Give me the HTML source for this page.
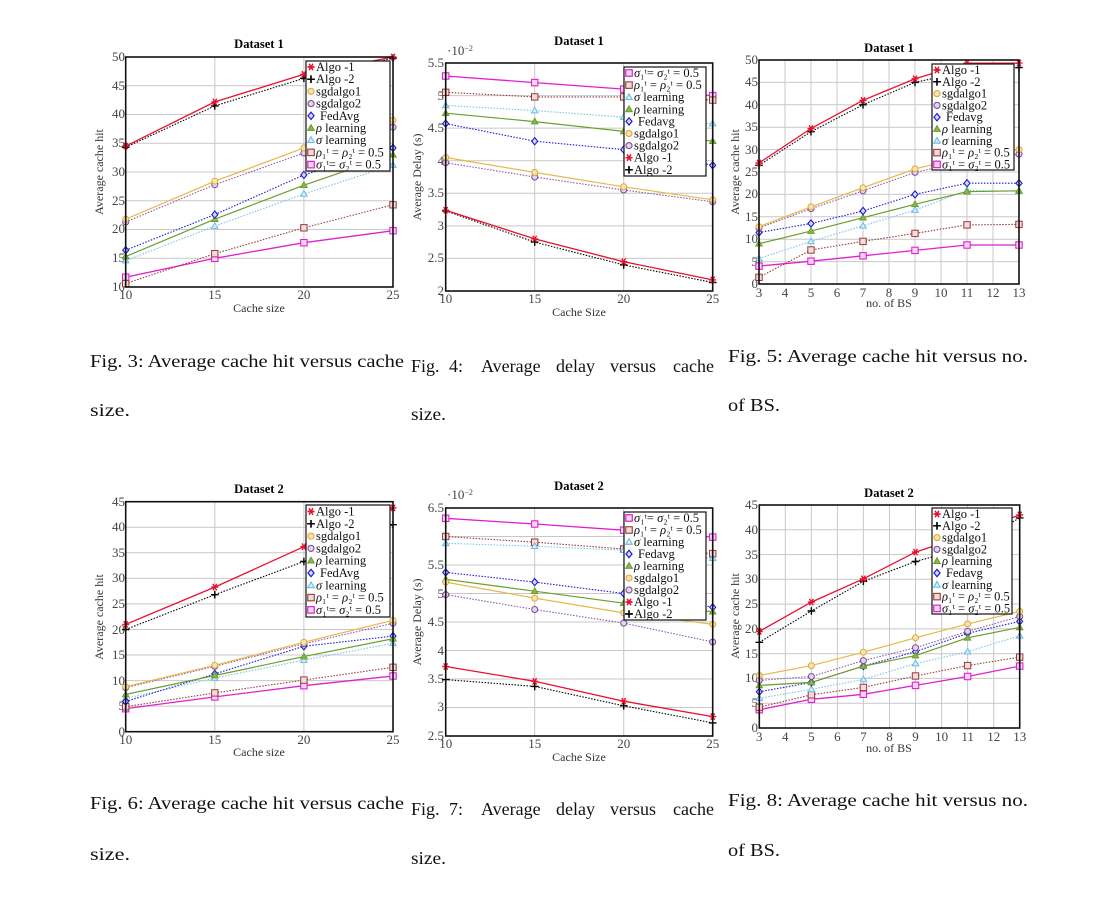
<!DOCTYPE html>
<html><head><meta charset="utf-8"><style>
html,body{margin:0;padding:0;background:#fff}
svg{display:block}
text{font-family:"Liberation Serif",serif}
.tk{font-size:13px;fill:#444}
.ttl{font-family:"Liberation Serif",serif;font-weight:bold;font-size:12.5px;fill:#000}
.al{font-size:12px;fill:#333}
.lgt{font-size:12.5px;fill:#111}
.cap{font-size:18px;fill:#111}
.g{stroke:#c8c8c8;stroke-width:1}
.box{fill:none;stroke:#111;stroke-width:1.6}
.lgb{fill:#fff;stroke:#111;stroke-width:1.2}
polyline{fill:none}
.a{stroke:#e8112d;stroke-width:1.3;marker-start:url(#mA);marker-mid:url(#mA);marker-end:url(#mA)}
.b{stroke:#000;stroke-width:1.1;stroke-dasharray:1.5 1.5;marker-start:url(#mB);marker-mid:url(#mB);marker-end:url(#mB)}
.c{stroke:#e8b84a;stroke-width:1.2;marker-start:url(#mC);marker-mid:url(#mC);marker-end:url(#mC)}
.d{stroke:#8a5aa8;stroke-width:1.1;stroke-dasharray:1.5 1.5;marker-start:url(#mD);marker-mid:url(#mD);marker-end:url(#mD)}
.f{stroke:#1a1ad8;stroke-width:1.1;stroke-dasharray:1.5 1.5;marker-start:url(#mF);marker-mid:url(#mF);marker-end:url(#mF)}
.r{stroke:#6a9e2a;stroke-width:1.2;marker-start:url(#mR);marker-mid:url(#mR);marker-end:url(#mR)}
.s{stroke:#7cc4ea;stroke-width:1.1;stroke-dasharray:1.5 1.5;marker-start:url(#mS);marker-mid:url(#mS);marker-end:url(#mS)}
.p{stroke:#9a3a3a;stroke-width:1.1;stroke-dasharray:1.5 1.5;marker-start:url(#mP);marker-mid:url(#mP);marker-end:url(#mP)}
.q{stroke:#e020d0;stroke-width:1.3;marker-start:url(#mQ);marker-mid:url(#mQ);marker-end:url(#mQ)}
.lg{stroke:none !important}
</style></head><body>
<svg width="1110" height="905" viewBox="0 0 1110 905" xmlns="http://www.w3.org/2000/svg">
<defs>
<marker id="mA" markerUnits="userSpaceOnUse" markerWidth="10" markerHeight="10" refX="0" refY="0" overflow="visible"><path d="M-3.5 0H3.5M-1.9 -3.2L1.9 3.2M1.9 -3.2L-1.9 3.2" stroke="#e8112d" stroke-width="1.4" fill="none"/></marker>
<marker id="mB" markerUnits="userSpaceOnUse" markerWidth="10" markerHeight="10" refX="0" refY="0" overflow="visible"><path d="M-3.8 0H3.8M0 -3.8V3.8" stroke="#000" stroke-width="1.4" fill="none"/></marker>
<marker id="mC" markerUnits="userSpaceOnUse" markerWidth="10" markerHeight="10" refX="0" refY="0" overflow="visible"><circle r="3" fill="#f6e3b0" stroke="#e0a83a" stroke-width="1"/></marker>
<marker id="mD" markerUnits="userSpaceOnUse" markerWidth="10" markerHeight="10" refX="0" refY="0" overflow="visible"><circle r="3" fill="#e3d6ec" stroke="#7a4a98" stroke-width="1"/></marker>
<marker id="mF" markerUnits="userSpaceOnUse" markerWidth="10" markerHeight="10" refX="0" refY="0" overflow="visible"><path d="M0 -3.6L3 0L0 3.6L-3 0Z" fill="#d6d6f6" stroke="#1a1ad8" stroke-width="1.1"/></marker>
<marker id="mR" markerUnits="userSpaceOnUse" markerWidth="10" markerHeight="10" refX="0" refY="0" overflow="visible"><path d="M0 -3.3L3.2 2.3L-3.2 2.3Z" fill="#8ab84a" stroke="#6a9e2a" stroke-width="1"/></marker>
<marker id="mS" markerUnits="userSpaceOnUse" markerWidth="10" markerHeight="10" refX="0" refY="0" overflow="visible"><path d="M0 -3.3L3.2 2.3L-3.2 2.3Z" fill="#d8eef8" stroke="#6cbce6" stroke-width="1"/></marker>
<marker id="mP" markerUnits="userSpaceOnUse" markerWidth="10" markerHeight="10" refX="0" refY="0" overflow="visible"><rect x="-3.2" y="-3.2" width="6.4" height="6.4" fill="#f0dcdc" stroke="#9a3a3a" stroke-width="1"/></marker>
<marker id="mQ" markerUnits="userSpaceOnUse" markerWidth="10" markerHeight="10" refX="0" refY="0" overflow="visible"><rect x="-3.2" y="-3.2" width="6.4" height="6.4" fill="#f8d8f4" stroke="#e020d0" stroke-width="1.1"/></marker>
</defs>

<!-- ================= CHART 1 ================= -->
<text class="ttl" x="259" y="48" text-anchor="middle">Dataset 1</text>
<g class="g">
<line x1="214.8" y1="57" x2="214.8" y2="287"/><line x1="303.9" y1="57" x2="303.9" y2="287"/>
<line x1="125.7" y1="258.25" x2="393" y2="258.25"/><line x1="125.7" y1="229.5" x2="393" y2="229.5"/>
<line x1="125.7" y1="200.75" x2="393" y2="200.75"/><line x1="125.7" y1="172" x2="393" y2="172"/>
<line x1="125.7" y1="143.25" x2="393" y2="143.25"/><line x1="125.7" y1="114.5" x2="393" y2="114.5"/>
<line x1="125.7" y1="85.75" x2="393" y2="85.75"/>
</g>
<g class="tk" text-anchor="end">
<text x="125" y="291">10</text><text x="125" y="262">15</text><text x="125" y="233">20</text><text x="125" y="205">25</text><text x="125" y="176">30</text><text x="125" y="147">35</text><text x="125" y="118">40</text><text x="125" y="90">45</text><text x="125" y="61">50</text>
</g>
<g class="tk" text-anchor="middle">
<text x="125.7" y="299">10</text><text x="214.8" y="299">15</text><text x="303.9" y="299">20</text><text x="393" y="299">25</text>
</g>
<text class="al" x="259" y="312" text-anchor="middle">Cache size</text>
<text class="al" transform="translate(103,172) rotate(-90)" text-anchor="middle">Average cache hit</text>
<polyline class="q" points="125.7,277.2 214.8,258.3 303.9,242.7 393,230.7"/>
<polyline class="p" points="125.7,283.6 214.8,253.7 303.9,227.8 393,204.8"/>
<polyline class="s" points="125.7,260.6 214.8,226.1 303.9,193.9 393,165.1"/>
<polyline class="r" points="125.7,256.5 214.8,219.2 303.9,185.2 393,154.8"/>
<polyline class="f" points="125.7,250.2 214.8,214.6 303.9,174.9 393,147.9"/>
<polyline class="d" points="125.7,222 214.8,184.7 303.9,153 393,127.2"/>
<polyline class="c" points="125.7,219.2 214.8,181.2 303.9,147.9 393,120.3"/>
<polyline class="b" points="125.7,147.3 214.8,105.9 303.9,78.3 393,58.2"/>
<polyline class="a" points="125.7,146.1 214.8,101.9 303.9,74.3 393,57"/>
<rect class="box" x="125.7" y="57" width="267.3" height="230"/>
<rect class="lgb" x="306" y="61" width="84" height="110"/>
<g class="lgt">
<path class="a lg" d="M311 67h0.01"/><text x="316" y="71">Algo -1</text>
<path class="b lg" d="M311 79.2h0.01"/><text x="316" y="83.2">Algo -2</text>
<path class="c lg" d="M311 91.4h0.01"/><text x="316" y="95.4">sgdalgo1</text>
<path class="d lg" d="M311 103.6h0.01"/><text x="316" y="107.6">sgdalgo2</text>
<path class="f lg" d="M311 115.8h0.01"/><text x="320" y="119.8">FedAvg</text>
<path class="r lg" d="M311 128h0.01"/><text x="316" y="132"><tspan font-style="italic">ρ</tspan> learning</text>
<path class="s lg" d="M311 140.2h0.01"/><text x="316" y="144.2"><tspan font-style="italic">σ</tspan> learning</text>
<path class="p lg" d="M311 152.4h0.01"/><text x="316" y="156.4"><tspan font-style="italic">ρ</tspan>₁ᵗ = <tspan font-style="italic">ρ</tspan>₂ᵗ = 0.5</text>
<path class="q lg" d="M311 164.6h0.01"/><text x="316" y="168.6"><tspan font-style="italic">σ</tspan>₁ᵗ= <tspan font-style="italic">σ</tspan>₂ᵗ = 0.5</text>
</g>

<!-- ================= CHART 2 ================= -->
<text class="ttl" x="579" y="45" text-anchor="middle">Dataset 1</text>
<text class="tk" x="447" y="55" font-size="11">·10<tspan dy="-4" font-size="8">−2</tspan></text>
<g class="g">
<line x1="534.7" y1="63" x2="534.7" y2="291"/><line x1="623.7" y1="63" x2="623.7" y2="291"/>
<line x1="445.7" y1="258.4" x2="712.7" y2="258.4"/><line x1="445.7" y1="225.9" x2="712.7" y2="225.9"/>
<line x1="445.7" y1="193.3" x2="712.7" y2="193.3"/><line x1="445.7" y1="160.7" x2="712.7" y2="160.7"/>
<line x1="445.7" y1="128.1" x2="712.7" y2="128.1"/><line x1="445.7" y1="95.6" x2="712.7" y2="95.6"/>
</g>
<g class="tk" text-anchor="end">
<text x="444" y="295">2</text><text x="444" y="262">2.5</text><text x="444" y="230">3</text><text x="444" y="197">3.5</text><text x="444" y="165">4</text><text x="444" y="132">4.5</text><text x="444" y="100">5</text><text x="444" y="67">5.5</text>
</g>
<g class="tk" text-anchor="middle">
<text x="445.7" y="303">10</text><text x="534.7" y="303">15</text><text x="623.7" y="303">20</text><text x="712.7" y="303">25</text>
</g>
<text class="al" x="579" y="316" text-anchor="middle">Cache Size</text>
<text class="al" transform="translate(421,177) rotate(-90)" text-anchor="middle">Average Delay (s)</text>
<polyline class="q" points="445.7,76 534.7,82.6 623.7,89.1 712.7,95.6"/>
<polyline class="p" points="445.7,92.3 534.7,96.9 623.7,96.9 712.7,100.1"/>
<polyline class="s" points="445.7,105.4 534.7,110.6 623.7,117.1 712.7,123.6"/>
<polyline class="r" points="445.7,113.2 534.7,121.6 623.7,131.4 712.7,141.2"/>
<polyline class="f" points="445.7,123.6 534.7,141.2 623.7,149.6 712.7,165.3"/>
<polyline class="d" points="445.7,162.7 534.7,177 623.7,190 712.7,201.8"/>
<polyline class="c" points="445.7,157.5 534.7,172.4 623.7,186.8 712.7,199.8"/>
<polyline class="b" points="445.7,210.9 534.7,242.1 623.7,264.9 712.7,282.5"/>
<polyline class="a" points="445.7,210.2 534.7,238.9 623.7,261.7 712.7,279.9"/>
<rect class="box" x="445.7" y="63" width="267" height="228"/>
<rect class="lgb" x="624" y="67" width="82" height="109"/>
<g class="lgt">
<path class="q lg" d="M629 73h0.01"/><text x="634" y="77"><tspan font-style="italic">σ</tspan>₁ᵗ= <tspan font-style="italic">σ</tspan>₂ᵗ = 0.5</text>
<path class="p lg" d="M629 85.1h0.01"/><text x="634" y="89.1"><tspan font-style="italic">ρ</tspan>₁ᵗ = <tspan font-style="italic">ρ</tspan>₂ᵗ = 0.5</text>
<path class="s lg" d="M629 97.2h0.01"/><text x="634" y="101.2"><tspan font-style="italic">σ</tspan> learning</text>
<path class="r lg" d="M629 109.3h0.01"/><text x="634" y="113.3"><tspan font-style="italic">ρ</tspan> learning</text>
<path class="f lg" d="M629 121.4h0.01"/><text x="638" y="125.4">Fedavg</text>
<path class="c lg" d="M629 133.5h0.01"/><text x="634" y="137.5">sgdalgo1</text>
<path class="d lg" d="M629 145.6h0.01"/><text x="634" y="149.6">sgdalgo2</text>
<path class="a lg" d="M629 157.7h0.01"/><text x="634" y="161.7">Algo -1</text>
<path class="b lg" d="M629 169.8h0.01"/><text x="634" y="173.8">Algo -2</text>
</g>

<!-- ================= CHART 3 ================= -->
<text class="ttl" x="889" y="52" text-anchor="middle">Dataset 1</text>
<g class="g">
<line x1="785" y1="60" x2="785" y2="284"/><line x1="811" y1="60" x2="811" y2="284"/><line x1="837" y1="60" x2="837" y2="284"/><line x1="863" y1="60" x2="863" y2="284"/><line x1="889" y1="60" x2="889" y2="284"/><line x1="915" y1="60" x2="915" y2="284"/><line x1="941" y1="60" x2="941" y2="284"/><line x1="967" y1="60" x2="967" y2="284"/><line x1="993" y1="60" x2="993" y2="284"/>
<line x1="759" y1="261.6" x2="1019" y2="261.6"/><line x1="759" y1="239.2" x2="1019" y2="239.2"/><line x1="759" y1="216.8" x2="1019" y2="216.8"/><line x1="759" y1="194.4" x2="1019" y2="194.4"/><line x1="759" y1="172" x2="1019" y2="172"/><line x1="759" y1="149.6" x2="1019" y2="149.6"/><line x1="759" y1="127.2" x2="1019" y2="127.2"/><line x1="759" y1="104.8" x2="1019" y2="104.8"/><line x1="759" y1="82.4" x2="1019" y2="82.4"/>
</g>
<g class="tk" text-anchor="end">
<text x="758" y="288">0</text><text x="758" y="266">5</text><text x="758" y="243">10</text><text x="758" y="221">15</text><text x="758" y="198">20</text><text x="758" y="176">25</text><text x="758" y="154">30</text><text x="758" y="131">35</text><text x="758" y="109">40</text><text x="758" y="86">45</text><text x="758" y="64">50</text>
</g>
<g class="tk" text-anchor="middle">
<text x="759" y="297">3</text><text x="785" y="297">4</text><text x="811" y="297">5</text><text x="837" y="297">6</text><text x="863" y="297">7</text><text x="889" y="297">8</text><text x="915" y="297">9</text><text x="941" y="297">10</text><text x="967" y="297">11</text><text x="993" y="297">12</text><text x="1019" y="297">13</text>
</g>
<text class="al" x="889" y="307" text-anchor="middle">no. of BS</text>
<text class="al" transform="translate(739,172) rotate(-90)" text-anchor="middle">Average cache hit</text>
<polyline class="q" points="759,266.1 811,261.2 863,255.8 915,250.4 967,245 1019,245"/>
<polyline class="p" points="759,277.3 811,250 863,241.4 915,233.4 967,224.9 1019,224.4"/>
<polyline class="s" points="759,258.5 811,241.4 863,225.8 915,210.1 967,190.4 1019,191.3"/>
<polyline class="r" points="759,243.7 811,231.1 863,217.7 915,204.3 967,191.7 1019,190.8"/>
<polyline class="f" points="759,232.5 811,223.5 863,211 915,194.4 967,183.2 1019,183.2"/>
<polyline class="d" points="759,228 811,208.7 863,190.8 915,172.4 967,160.8 1019,154.1"/>
<polyline class="c" points="759,226.7 811,206.9 863,187.7 915,168.9 967,156.3 1019,149.6"/>
<polyline class="b" points="759,165.3 811,131.7 863,104.8 915,82.4 967,71.2 1019,67.6"/>
<polyline class="a" points="759,163 811,128.5 863,100.3 915,78.8 967,63.1 1019,63.1"/>
<rect class="box" x="759" y="60" width="260" height="224"/>
<rect class="lgb" x="932" y="64" width="82" height="106"/>
<g class="lgt">
<path class="a lg" d="M937 70h0.01"/><text x="942" y="74">Algo -1</text>
<path class="b lg" d="M937 81.8h0.01"/><text x="942" y="85.8">Algo -2</text>
<path class="c lg" d="M937 93.6h0.01"/><text x="942" y="97.6">sgdalgo1</text>
<path class="d lg" d="M937 105.4h0.01"/><text x="942" y="109.4">sgdalgo2</text>
<path class="f lg" d="M937 117.2h0.01"/><text x="946" y="121.2">Fedavg</text>
<path class="r lg" d="M937 129h0.01"/><text x="942" y="133"><tspan font-style="italic">ρ</tspan> learning</text>
<path class="s lg" d="M937 140.8h0.01"/><text x="942" y="144.8"><tspan font-style="italic">σ</tspan> learning</text>
<path class="p lg" d="M937 152.6h0.01"/><text x="942" y="156.6"><tspan font-style="italic">ρ</tspan>₁ᵗ = <tspan font-style="italic">ρ</tspan>₂ᵗ = 0.5</text>
<path class="q lg" d="M937 164.4h0.01"/><text x="942" y="168.4"><tspan font-style="italic">σ</tspan>₁ᵗ = <tspan font-style="italic">σ</tspan>₂ᵗ = 0.5</text>
</g>

<!-- ================= CHART 4 ================= -->
<text class="ttl" x="259" y="493" text-anchor="middle">Dataset 2</text>
<g class="g">
<line x1="214.8" y1="501.7" x2="214.8" y2="731.7"/><line x1="303.9" y1="501.7" x2="303.9" y2="731.7"/>
<line x1="125.7" y1="706.1" x2="393" y2="706.1"/><line x1="125.7" y1="680.6" x2="393" y2="680.6"/><line x1="125.7" y1="655" x2="393" y2="655"/><line x1="125.7" y1="629.5" x2="393" y2="629.5"/><line x1="125.7" y1="603.9" x2="393" y2="603.9"/><line x1="125.7" y1="578.4" x2="393" y2="578.4"/><line x1="125.7" y1="552.8" x2="393" y2="552.8"/><line x1="125.7" y1="527.2" x2="393" y2="527.2"/>
</g>
<g class="tk" text-anchor="end">
<text x="125" y="736">0</text><text x="125" y="710">5</text><text x="125" y="685">10</text><text x="125" y="659">15</text><text x="125" y="634">20</text><text x="125" y="608">25</text><text x="125" y="582">30</text><text x="125" y="557">35</text><text x="125" y="531">40</text><text x="125" y="506">45</text>
</g>
<g class="tk" text-anchor="middle">
<text x="125.7" y="744">10</text><text x="214.8" y="744">15</text><text x="303.9" y="744">20</text><text x="393" y="744">25</text>
</g>
<text class="al" x="259" y="756" text-anchor="middle">Cache size</text>
<text class="al" transform="translate(103,617) rotate(-90)" text-anchor="middle">Average cache hit</text>
<polyline class="q" points="125.7,708.7 214.8,696.9 303.9,685.7 393,676"/>
<polyline class="p" points="125.7,706.7 214.8,692.9 303.9,680.1 393,667.3"/>
<polyline class="s" points="125.7,698.5 214.8,678 303.9,660.1 393,643.3"/>
<polyline class="f" points="125.7,701.5 214.8,673.9 303.9,646.3 393,636.1"/>
<polyline class="r" points="125.7,694.4 214.8,675.5 303.9,656.6 393,638.7"/>
<polyline class="d" points="125.7,687.7 214.8,666.3 303.9,643.8 393,623.3"/>
<polyline class="c" points="125.7,686.7 214.8,665.3 303.9,642.3 393,620.3"/>
<polyline class="b" points="125.7,629.5 214.8,594.7 303.9,561.5 393,524.7"/>
<polyline class="a" points="125.7,624.4 214.8,587.1 303.9,546.7 393,507.8"/>
<rect class="box" x="125.7" y="501.7" width="267.3" height="230"/>
<rect class="lgb" x="306" y="505" width="84" height="112"/>
<g class="lgt">
<path class="a lg" d="M311 511.5h0.01"/><text x="316" y="515.5">Algo -1</text>
<path class="b lg" d="M311 523.8h0.01"/><text x="316" y="527.8">Algo -2</text>
<path class="c lg" d="M311 536.1h0.01"/><text x="316" y="540.1">sgdalgo1</text>
<path class="d lg" d="M311 548.4h0.01"/><text x="316" y="552.4">sgdalgo2</text>
<path class="r lg" d="M311 560.7h0.01"/><text x="316" y="564.7"><tspan font-style="italic">ρ</tspan> learning</text>
<path class="f lg" d="M311 573h0.01"/><text x="320" y="577">FedAvg</text>
<path class="s lg" d="M311 585.3h0.01"/><text x="316" y="589.3"><tspan font-style="italic">σ</tspan> learning</text>
<path class="p lg" d="M311 597.6h0.01"/><text x="316" y="601.6"><tspan font-style="italic">ρ</tspan>₁ᵗ = <tspan font-style="italic">ρ</tspan>₂ᵗ = 0.5</text>
<path class="q lg" d="M311 609.9h0.01"/><text x="316" y="613.9"><tspan font-style="italic">σ</tspan>₁ᵗ= <tspan font-style="italic">σ</tspan>₂ᵗ = 0.5</text>
</g>

<!-- ================= CHART 5 ================= -->
<text class="ttl" x="579" y="490" text-anchor="middle">Dataset 2</text>
<text class="tk" x="447" y="499" font-size="11">·10<tspan dy="-4" font-size="8">−2</tspan></text>
<g class="g">
<line x1="534.7" y1="508" x2="534.7" y2="736"/><line x1="623.7" y1="508" x2="623.7" y2="736"/>
<line x1="445.7" y1="707.5" x2="712.7" y2="707.5"/><line x1="445.7" y1="679" x2="712.7" y2="679"/><line x1="445.7" y1="650.5" x2="712.7" y2="650.5"/><line x1="445.7" y1="622" x2="712.7" y2="622"/><line x1="445.7" y1="593.5" x2="712.7" y2="593.5"/><line x1="445.7" y1="565" x2="712.7" y2="565"/><line x1="445.7" y1="536.5" x2="712.7" y2="536.5"/>
</g>
<g class="tk" text-anchor="end">
<text x="444" y="740">2.5</text><text x="444" y="711">3</text><text x="444" y="683">3.5</text><text x="444" y="655">4</text><text x="444" y="626">4.5</text><text x="444" y="598">5</text><text x="444" y="569">5.5</text><text x="444" y="512">6.5</text>
</g>
<g class="tk" text-anchor="middle">
<text x="445.7" y="748">10</text><text x="534.7" y="748">15</text><text x="623.7" y="748">20</text><text x="712.7" y="748">25</text>
</g>
<text class="al" x="579" y="761" text-anchor="middle">Cache Size</text>
<text class="al" transform="translate(421,622) rotate(-90)" text-anchor="middle">Average Delay (s)</text>
<polyline class="q" points="445.7,518.3 534.7,524 623.7,530.2 712.7,537.1"/>
<polyline class="p" points="445.7,536.5 534.7,542.2 623.7,549 712.7,553.6"/>
<polyline class="s" points="445.7,543.3 534.7,546.2 623.7,550.2 712.7,558.2"/>
<polyline class="f" points="445.7,572.4 534.7,582.1 623.7,593.5 712.7,607.2"/>
<polyline class="r" points="445.7,579.3 534.7,591.2 623.7,603.2 712.7,611.7"/>
<polyline class="c" points="445.7,582.1 534.7,598.1 623.7,612.9 712.7,624.3"/>
<polyline class="d" points="445.7,594.6 534.7,609.5 623.7,623.1 712.7,642"/>
<polyline class="b" points="445.7,679.6 534.7,686.4 623.7,705.8 712.7,722.9"/>
<polyline class="a" points="445.7,666.5 534.7,681.3 623.7,701.2 712.7,716.6"/>
<rect class="box" x="445.7" y="508" width="267" height="228"/>
<rect class="lgb" x="624" y="512" width="82" height="108"/>
<g class="lgt">
<path class="q lg" d="M629 518h0.01"/><text x="634" y="522"><tspan font-style="italic">σ</tspan>₁ᵗ= <tspan font-style="italic">σ</tspan>₂ᵗ = 0.5</text>
<path class="p lg" d="M629 530h0.01"/><text x="634" y="534"><tspan font-style="italic">ρ</tspan>₁ᵗ = <tspan font-style="italic">ρ</tspan>₂ᵗ = 0.5</text>
<path class="s lg" d="M629 542h0.01"/><text x="634" y="546"><tspan font-style="italic">σ</tspan> learning</text>
<path class="f lg" d="M629 554h0.01"/><text x="638" y="558">Fedavg</text>
<path class="r lg" d="M629 566h0.01"/><text x="634" y="570"><tspan font-style="italic">ρ</tspan> learning</text>
<path class="c lg" d="M629 578h0.01"/><text x="634" y="582">sgdalgo1</text>
<path class="d lg" d="M629 590h0.01"/><text x="634" y="594">sgdalgo2</text>
<path class="a lg" d="M629 602h0.01"/><text x="634" y="606">Algo -1</text>
<path class="b lg" d="M629 614h0.01"/><text x="634" y="618">Algo -2</text>
</g>

<!-- ================= CHART 6 ================= -->
<text class="ttl" x="889" y="497" text-anchor="middle">Dataset 2</text>
<g class="g">
<line x1="785.3" y1="505" x2="785.3" y2="728"/><line x1="811.4" y1="505" x2="811.4" y2="728"/><line x1="837.4" y1="505" x2="837.4" y2="728"/><line x1="863.4" y1="505" x2="863.4" y2="728"/><line x1="889.5" y1="505" x2="889.5" y2="728"/><line x1="915.5" y1="505" x2="915.5" y2="728"/><line x1="941.6" y1="505" x2="941.6" y2="728"/><line x1="967.6" y1="505" x2="967.6" y2="728"/><line x1="993.7" y1="505" x2="993.7" y2="728"/>
<line x1="759.3" y1="703.2" x2="1019.7" y2="703.2"/><line x1="759.3" y1="678.4" x2="1019.7" y2="678.4"/><line x1="759.3" y1="653.7" x2="1019.7" y2="653.7"/><line x1="759.3" y1="628.9" x2="1019.7" y2="628.9"/><line x1="759.3" y1="604.1" x2="1019.7" y2="604.1"/><line x1="759.3" y1="579.3" x2="1019.7" y2="579.3"/><line x1="759.3" y1="554.6" x2="1019.7" y2="554.6"/><line x1="759.3" y1="529.8" x2="1019.7" y2="529.8"/>
</g>
<g class="tk" text-anchor="end">
<text x="758" y="732">0</text><text x="758" y="707">5</text><text x="758" y="682">10</text><text x="758" y="658">15</text><text x="758" y="633">20</text><text x="758" y="608">25</text><text x="758" y="583">30</text><text x="758" y="559">35</text><text x="758" y="534">40</text><text x="758" y="509">45</text>
</g>
<g class="tk" text-anchor="middle">
<text x="759.3" y="741">3</text><text x="785.3" y="741">4</text><text x="811.4" y="741">5</text><text x="837.4" y="741">6</text><text x="863.4" y="741">7</text><text x="889.5" y="741">8</text><text x="915.5" y="741">9</text><text x="941.6" y="741">10</text><text x="967.6" y="741">11</text><text x="993.7" y="741">12</text><text x="1019.7" y="741">13</text>
</g>
<text class="al" x="889" y="752" text-anchor="middle">no. of BS</text>
<text class="al" transform="translate(739,616) rotate(-90)" text-anchor="middle">Average cache hit</text>
<polyline class="q" points="759.3,709.7 811.4,699.3 863.4,694.3 915.5,685.4 967.6,676.5 1019.7,666.1"/>
<polyline class="p" points="759.3,707.2 811.4,694.8 863.4,687.4 915.5,676 967.6,665.6 1019.7,657.1"/>
<polyline class="s" points="759.3,698.3 811.4,689.3 863.4,679.4 915.5,663.6 967.6,651.7 1019.7,635.8"/>
<polyline class="f" points="759.3,691.8 811.4,682.4 863.4,666.1 915.5,651.7 967.6,633.3 1019.7,621.4"/>
<polyline class="r" points="759.3,685.4 811.4,682.4 863.4,666.1 915.5,655.6 967.6,637.8 1019.7,627.4"/>
<polyline class="d" points="759.3,680.4 811.4,676.5 863.4,660.6 915.5,647.7 967.6,631.4 1019.7,616.5"/>
<polyline class="c" points="759.3,675.5 811.4,665.6 863.4,652.2 915.5,637.8 967.6,623.9 1019.7,611.5"/>
<polyline class="b" points="759.3,642.3 811.4,611 863.4,581.3 915.5,561.5 967.6,547.1 1019.7,517.9"/>
<polyline class="a" points="759.3,631.4 811.4,602.1 863.4,578.8 915.5,552.1 967.6,534.7 1019.7,514.9"/>
<rect class="box" x="759.3" y="505" width="260.4" height="223"/>
<rect class="lgb" x="932" y="508" width="80" height="106"/>
<g class="lgt">
<path class="a lg" d="M937 514h0.01"/><text x="942" y="518">Algo -1</text>
<path class="b lg" d="M937 525.8h0.01"/><text x="942" y="529.8">Algo -2</text>
<path class="c lg" d="M937 537.6h0.01"/><text x="942" y="541.6">sgdalgo1</text>
<path class="d lg" d="M937 549.4h0.01"/><text x="942" y="553.4">sgdalgo2</text>
<path class="r lg" d="M937 561.2h0.01"/><text x="942" y="565.2"><tspan font-style="italic">ρ</tspan> learning</text>
<path class="f lg" d="M937 573h0.01"/><text x="946" y="577">Fedavg</text>
<path class="s lg" d="M937 584.8h0.01"/><text x="942" y="588.8"><tspan font-style="italic">σ</tspan> learning</text>
<path class="p lg" d="M937 596.6h0.01"/><text x="942" y="600.6"><tspan font-style="italic">ρ</tspan>₁ᵗ = <tspan font-style="italic">ρ</tspan>₂ᵗ = 0.5</text>
<path class="q lg" d="M937 608.4h0.01"/><text x="942" y="612.4"><tspan font-style="italic">σ</tspan>₁ᵗ = <tspan font-style="italic">σ</tspan>₂ᵗ = 0.5</text>
</g>

<!-- ================= CAPTIONS ================= -->
<g class="cap">
<text x="90" y="367" textLength="314" lengthAdjust="spacingAndGlyphs">Fig. 3: Average cache hit versus cache</text>
<text x="90" y="416" textLength="40" lengthAdjust="spacingAndGlyphs">size.</text>
<text x="411" y="372">Fig.</text><text x="449" y="372">4:</text><text x="481" y="372">Average</text><text x="556" y="372">delay</text><text x="610" y="372">versus</text><text x="673" y="372">cache</text>
<text x="411" y="420" textLength="35" lengthAdjust="spacingAndGlyphs">size.</text>
<text x="728" y="362" textLength="300" lengthAdjust="spacingAndGlyphs">Fig. 5: Average cache hit versus no.</text>
<text x="728" y="411" textLength="52" lengthAdjust="spacingAndGlyphs">of BS.</text>
<text x="90" y="809" textLength="314" lengthAdjust="spacingAndGlyphs">Fig. 6: Average cache hit versus cache</text>
<text x="90" y="860" textLength="40" lengthAdjust="spacingAndGlyphs">size.</text>
<text x="411" y="815">Fig.</text><text x="449" y="815">7:</text><text x="481" y="815">Average</text><text x="556" y="815">delay</text><text x="610" y="815">versus</text><text x="673" y="815">cache</text>
<text x="411" y="864" textLength="35" lengthAdjust="spacingAndGlyphs">size.</text>
<text x="728" y="806" textLength="300" lengthAdjust="spacingAndGlyphs">Fig. 8: Average cache hit versus no.</text>
<text x="728" y="856" textLength="52" lengthAdjust="spacingAndGlyphs">of BS.</text>
</g>
</svg>
</body></html>
